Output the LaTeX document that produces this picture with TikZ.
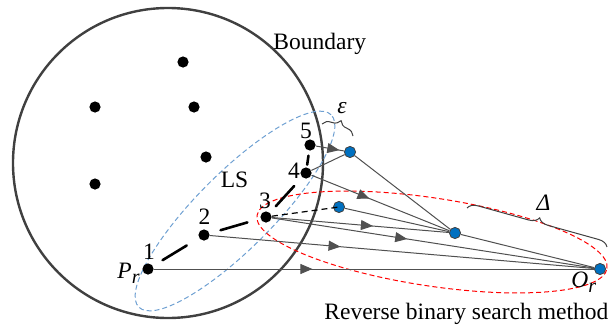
\documentclass[tikz,border=0pt]{standalone}
\usepackage{fontspec}
\setmainfont{Liberation Serif}
\usetikzlibrary{arrows.meta,positioning,decorations.markings,decorations.pathreplacing}

\definecolor{dotblue}{RGB}{0,112,192}
\definecolor{raygray}{RGB}{80,80,80}
\definecolor{lsblue}{RGB}{110,160,210}
\definecolor{rimgray}{RGB}{64,64,64}

\begin{document}
\begin{tikzpicture}[
  x=0.5pt, y=-0.5pt,
  every node/.style={font=\fontsize{11.75}{14}\selectfont},
  dot/.style={circle, fill=black, inner sep=0pt, minimum size=5.6pt},
  bdot/.style={circle, draw=black!75, line width=0.4pt, fill=dotblue, inner sep=0pt, minimum size=5.6pt},
  lbl/.style={inner sep=0pt},
  ray/.style={draw=raygray, line width=0.5pt, decoration={markings, mark=at position #1 with {\arrow{Triangle[length=6pt,width=5pt]}}}, postaction={decorate}},
  link/.style={draw=raygray, line width=0.5pt},
  hop/.style={line width=1.3pt, line cap=round},
  brc/.style={draw=rimgray, line width=0.5pt, decorate, decoration={brace, amplitude=5pt}}
]
\useasboundingbox (0,0) rectangle (609,327);

% search region and the two groups
\draw[rimgray, line width=1.2pt] (168,163) circle [radius=77.5pt];
\draw[lsblue, dash pattern=on 2.5pt off 1.5pt, line width=0.5pt, rotate around={45:(235,211)}] (235,211) ellipse [x radius=68pt, y radius=19pt];
\draw[red, dash pattern=on 2.5pt off 1.5pt, line width=0.5pt, rotate around={-8.6:(432,242)}] (432,242) ellipse [x radius=88.5pt, y radius=22pt];

% points inside the boundary
\node[dot] (d1) at (183,62) {};
\node[dot] (d2) at (95,107) {};
\node[dot] (d3) at (194,107) {};
\node[dot] (d4) at (206,157) {};
\node[dot] (d5) at (95,184) {};

\node[dot] (p1) at (148,269) {};
\node[dot] (p2) at (204,235) {};
\node[dot] (p3) at (266,217) {};
\node[dot] (p4) at (306,173) {};
\node[dot] (p5) at (310,145) {};

\node[bdot] (b1) at (350,152) {};
\node[bdot] (b2) at (339,207) {};
\node[bdot] (b3) at (455,233) {};
\node[bdot] (or) at (600,269) {};

% rays
\draw[ray=0.36] (p1) -- (or);
\draw[ray=0.34] (p2) -- (or);
\draw[ray=0.42] (p3) -- (or);
\draw[ray=0.57] (p3) -- (b3);
\draw[ray=0.42] (p4) -- (b3);
\draw[ray=0.83] (p5) -- (b1);
\draw[link] (p4) -- (b1);
\draw[link] (b1) -- (b3);
\draw[link] (b2) -- (b3);
\draw[link] (b3) -- (or);
\draw[black, line width=0.6pt, dash pattern=on 3pt off 2pt] (p3) -- (b2.center);

% steps along LS
\draw[hop, shorten <=5.5pt, shorten >=7.1pt] (p1) -- (p2);
\draw[hop, shorten <=5.6pt, shorten >=6.7pt] (p2) -- (p3);
\draw[hop, shorten <=4.3pt, shorten >=5.8pt] (p3) -- (p4);
\draw[hop, shorten <=1.2pt, shorten >=2.4pt] (p4) -- (p5);

% braces
\coordinate (epsA) at (322,124);
\coordinate (epsB) at (353,136);
\coordinate (delA) at (467,208);
\coordinate (delB) at (607,247);
\draw[brc] (epsA) -- (epsB);
\draw[brc] (delA) -- (delB);

% labels
\node[lbl, anchor=base] (n1) at (149,259) {1};
\node[lbl, anchor=base] (n2) at (204.5,224) {2};
\node[lbl, anchor=base] (n3) at (265,208) {3};
\node[lbl, anchor=base] (n4) at (294,178) {4};
\node[lbl, anchor=base] (n5) at (306,138) {5};
\node[lbl, anchor=base] (ls) at (234.5,187) {LS};
\node[lbl, anchor=base west] (pr) at (117,278) {\textit{P}\raisebox{-2.5pt}{\fontsize{10}{10}\selectfont\textit{r}}};
\node[lbl, anchor=base west] (orl) at (571,287) {\textit{O}\raisebox{-2.5pt}{\fontsize{10}{10}\selectfont\textit{r}}};
\node[lbl, anchor=base] (eps) at (342,113) {\textit{ε}};
\node[lbl, anchor=base] (del) at (543.5,210) {\textit{Δ}};
\node[lbl, anchor=base west] (bnd) at (273,49.5) {Boundary};
\node[lbl, anchor=base west] (rbs) at (324,319) {Reverse binary search method};

\end{tikzpicture}
\end{document}
